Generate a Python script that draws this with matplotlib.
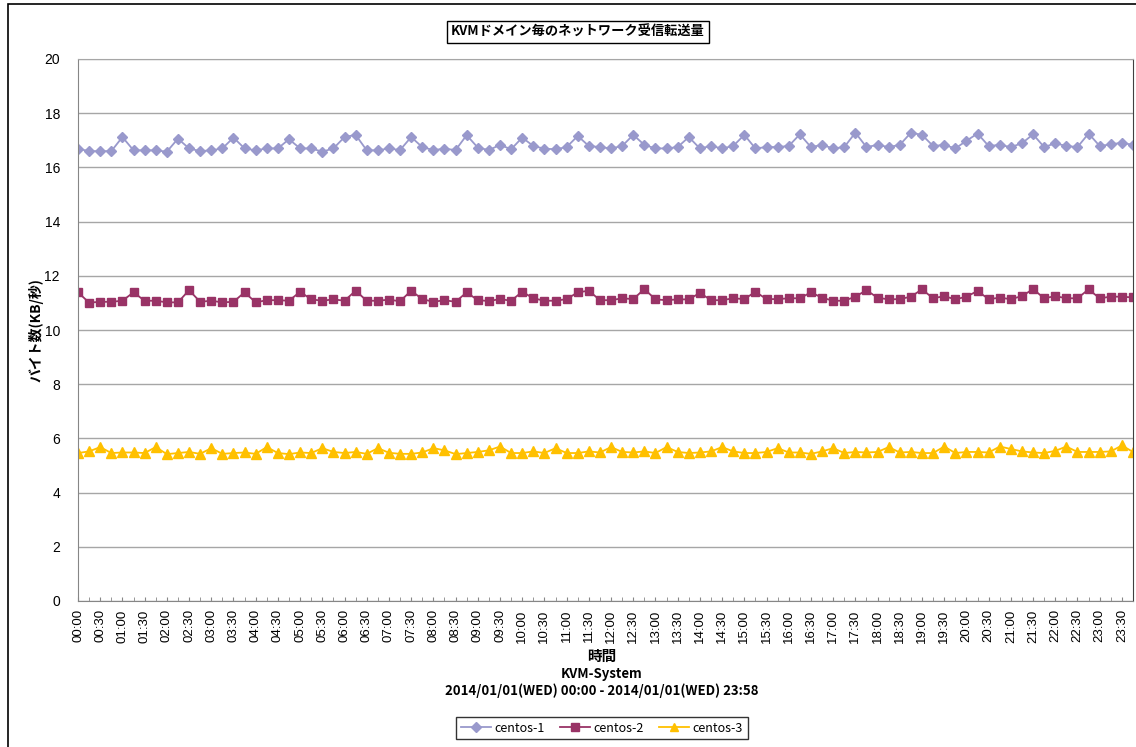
import matplotlib.pyplot as plt
from matplotlib.patches import Rectangle

plt.rcParams['font.family'] = ['Noto Sans CJK JP', 'DejaVu Sans']

# 15-minute samples, 00:00 .. 23:45
times = ['%02d:%02d' % (i // 4, (i % 4) * 15) for i in range(96)]

centos1 = [16.69, 16.60, 16.60, 16.60, 17.12, 16.63, 16.63, 16.63, 16.58, 17.06,
           16.70, 16.60, 16.63, 16.70, 17.10, 16.70, 16.63, 16.70, 16.70, 17.04,
           16.70, 16.70, 16.58, 16.70, 17.12, 17.20, 16.63, 16.63, 16.70, 16.64,
           17.12, 16.75, 16.64, 16.69, 16.64, 17.19, 16.73, 16.64, 16.83, 16.67,
           17.10, 16.79, 16.69, 16.67, 16.75, 17.16, 16.79, 16.75, 16.70, 16.79,
           17.20, 16.83, 16.70, 16.70, 16.75, 17.12, 16.70, 16.79, 16.70, 16.79,
           17.20, 16.70, 16.75, 16.75, 16.79, 17.22, 16.75, 16.83, 16.70, 16.75,
           17.28, 16.75, 16.83, 16.75, 16.83, 17.28, 17.20, 16.79, 16.83, 16.70,
           16.98, 17.25, 16.79, 16.83, 16.75, 16.89, 17.22, 16.75, 16.89, 16.79,
           16.75, 17.25, 16.79, 16.85, 16.91, 16.83]

centos2 = [11.39, 11.01, 11.04, 11.04, 11.08, 11.39, 11.08, 11.08, 11.02, 11.02,
           11.47, 11.04, 11.08, 11.02, 11.04, 11.39, 11.02, 11.10, 11.10, 11.08,
           11.41, 11.13, 11.08, 11.13, 11.08, 11.45, 11.08, 11.08, 11.12, 11.06,
           11.45, 11.14, 11.04, 11.10, 11.04, 11.39, 11.10, 11.07, 11.14, 11.08,
           11.41, 11.17, 11.08, 11.08, 11.14, 11.39, 11.45, 11.10, 11.10, 11.17,
           11.14, 11.51, 11.13, 11.10, 11.13, 11.13, 11.37, 11.10, 11.10, 11.17,
           11.14, 11.41, 11.14, 11.14, 11.17, 11.17, 11.39, 11.19, 11.08, 11.08,
           11.23, 11.47, 11.19, 11.13, 11.14, 11.23, 11.50, 11.17, 11.25, 11.13,
           11.23, 11.44, 11.14, 11.19, 11.14, 11.25, 11.51, 11.17, 11.25, 11.17,
           11.17, 11.50, 11.17, 11.23, 11.23, 11.20]

centos3 = [5.46, 5.52, 5.68, 5.46, 5.48, 5.48, 5.46, 5.68, 5.42, 5.46,
           5.50, 5.43, 5.64, 5.43, 5.46, 5.48, 5.43, 5.68, 5.46, 5.42,
           5.48, 5.46, 5.64, 5.50, 5.46, 5.50, 5.43, 5.64, 5.47, 5.43,
           5.43, 5.48, 5.64, 5.56, 5.42, 5.46, 5.50, 5.56, 5.70, 5.46,
           5.46, 5.52, 5.46, 5.64, 5.46, 5.46, 5.52, 5.48, 5.68, 5.50,
           5.48, 5.52, 5.46, 5.68, 5.50, 5.46, 5.48, 5.52, 5.68, 5.52,
           5.46, 5.46, 5.50, 5.64, 5.48, 5.48, 5.43, 5.52, 5.64, 5.46,
           5.50, 5.48, 5.50, 5.68, 5.48, 5.50, 5.46, 5.46, 5.70, 5.46,
           5.50, 5.50, 5.48, 5.70, 5.61, 5.52, 5.48, 5.46, 5.54, 5.70,
           5.50, 5.50, 5.50, 5.52, 5.74, 5.50]

W, H = 1136, 747
fig = plt.figure(figsize=(W / 100, H / 100), dpi=100)

def fx(px):
    return px / W

def fy(py):
    return 1 - py / H

# outer chart border
fig.patches.append(Rectangle((fx(8), fy(752)), fx(1140) - fx(8), fy(4) - fy(752),
                             transform=fig.transFigure, fill=False,
                             edgecolor='black', linewidth=1.2))

ax = fig.add_axes([fx(78), fy(601), fx(1133) - fx(78), fy(59) - fy(601)])

x = list(range(len(times)))
ax.plot(x, centos1, color='#9999CC', marker='D', markersize=5.5, linewidth=1.3,
        label='centos-1')
ax.plot(x, centos2, color='#993366', marker='s', markersize=6, linewidth=1.3,
        label='centos-2')
ax.plot(x, centos3, color='#FFC000', marker='^', markersize=7, linewidth=1.3,
        label='centos-3')

ax.set_xlim(0, len(times) - 1)
ax.set_ylim(0, 20)
ax.set_yticks(range(0, 21, 2))
ax.yaxis.grid(True, color='#A6A6A6', linewidth=1)
ax.set_axisbelow(True)

ax.set_xticks(x[::2])
ax.set_xticklabels(times[::2], rotation=90, fontsize=9.5, family='Liberation Sans')
ax.set_xticks(x, minor=True)
ax.tick_params(axis='x', which='both', direction='in', length=3, color='#868686',
               pad=6)
ax.tick_params(axis='y', length=0, pad=13)
for lbl in ax.get_yticklabels():
    lbl.set_fontsize(10)
    lbl.set_family('Liberation Sans')

for side in ['left', 'bottom']:
    ax.spines[side].set_color('#868686')
ax.spines['top'].set_color('#A6A6A6')
ax.spines['right'].set_color('#404040')

# title box
fig.text(fx(578), fy(32), 'KVMドメイン毎のネットワーク受信転送量', ha='center', va='center',
         fontsize=9.5, fontweight='bold',
         bbox=dict(boxstyle='square,pad=0.3', facecolor='white', edgecolor='black',
                   linewidth=1))

fig.text(fx(36), fy(330), 'バイト数(KB/秒)', rotation=90, ha='center', va='center',
         fontsize=10, fontweight='bold')

fig.text(fx(602), fy(656), '時間', ha='center', va='center', fontsize=10.5,
         fontweight='bold')
fig.text(fx(602), fy(674), 'KVM-System', ha='center', va='center', fontsize=9.5,
         fontweight='bold')
fig.text(fx(602), fy(691), '2014/01/01(WED) 00:00 - 2014/01/01(WED) 23:58',
         ha='center', va='center', fontsize=9.5, fontweight='bold')

leg = fig.legend(loc='center', bbox_to_anchor=(fx(602), fy(728)), ncol=3,
                 fontsize=9, frameon=True, fancybox=False, edgecolor='black',
                 handlelength=2.4, handletextpad=0.3, columnspacing=1.2,
                 borderpad=0.35, markerscale=0.85)
leg.get_frame().set_linewidth(1)

fig.savefig('out.png', dpi=100)
